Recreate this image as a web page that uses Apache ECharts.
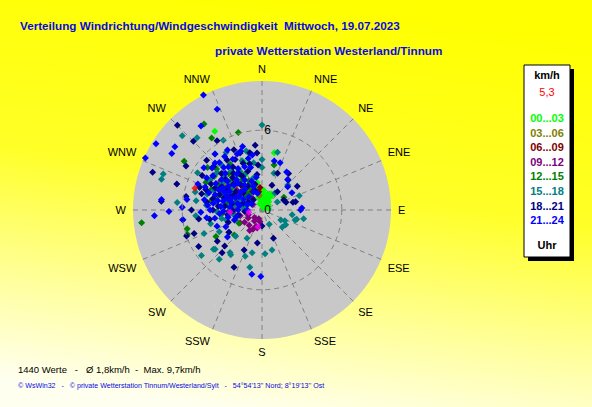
<!DOCTYPE html>
<html>
<head>
<meta charset="utf-8">
<script src="https://cdn.jsdelivr.net/npm/echarts@6/dist/echarts.min.js"></script>
<style>
  html, body { margin: 0; padding: 0; }
  #chart { width: 592px; height: 407px; }
</style>
</head>
<body>
<div id="chart"></div>
<script>
// compass labels for the angle axis, every 22.5 degrees
const dirLabels = ['N', 'NNE', 'NE', 'ENE', 'E', 'ESE', 'SE', 'SSE',
                   'S', 'SSW', 'SW', 'WSW', 'W', 'WNW', 'NW', 'NNW'];

// time groups (Uhr) and their colours
const groupNames = ['00...03', '03...06', '06...09', '09...12', '12...15', '15...18', '18...21', '21...24'];
const groupColors = ['#00ff00', '#808000', '#800000', '#800080', '#008000', '#008080', '#000080', '#0000ff'];

// points: [speed km/h, direction deg]
const g00 = [
  [0.2,40],[0.4,60],[0.5,30],[0.6,50],[0.5,75],[0.8,40],[1.0,30],[0.6,10],[0.8,15],[1.2,25],
  [0.9,5],[0.4,350],[1.3,35],[0.3,20],[1.4,355],[1.5,5],[0.5,340],[0.8,355],[1.0,345],[1.2,5],
  [1.3,20],[0.9,25],[1.1,15],[0.6,25],[1.4,30],[1.6,345],[1.8,340],[2.0,335],[2.3,338],[2.6,330],
  [2.9,333],[3.2,325],[2.1,350],[2.4,320],[2.8,315],[3.5,330],[1.7,315],[2.0,300],[3.0,305],[2.5,290],
  [4.4,12],[6.9,329],[3.8,340]
];
const g03 = [
  [1.1,350],[1.5,320],[2.0,310],[2.4,300],[1.8,285],[3.1,295],[2.7,315],[3.4,305]
];
const g06 = [
  [1.4,350],[1.9,300],[2.3,305],[2.6,290],[1.2,310],[3.0,300],[1.7,355],[2.2,320],[1.6,330]
];
const g09 = [
  [1.8,211],[1.6,235],[1.3,200],[1.0,215],[0.8,225],[1.5,220],[1.2,240],[0.7,200],[1.9,240],
  [1.1,250],[1.6,205],[0.9,190],[1.4,195],[1.7,255],[2.1,260],[2.6,298],[2.9,304],
  [3.1,300],[3.3,296],[2.4,308],[3.5,310],[2.2,300],[2.0,275],[2.7,285],[1.5,280],[3.8,305],[3.0,315],
  [1.8,295],[2.5,268],[4.0,312],[0.8,300],[1.2,320]
];
const g12 = [
  [7.8,326],[6.9,302],[9.1,264],[5.8,256],[5.9,252],[6.1,343],[6.6,325],[1.9,60],[3.5,15],[4.0,240],
  [2.8,228],[5.0,290],[4.6,312],[2.5,300],[2.9,295],[3.2,312],[2.0,290],[1.6,306],[3.6,286],[2.3,272],
  [3.8,300],[2.7,325],[1.9,330],[4.1,292],[3.0,265],[2.2,250],[1.2,285],[3.4,330],[2.6,282],[4.4,305],
  [1.8,318],[3.1,275],[2.0,240],[3.7,318],[4.2,325],[2.4,336],[3.3,290],[4.7,296],[2.8,308],[1.5,320],
  [3.9,280],[5.2,308],[2.1,285]
];
const g15 = [
  [6.4,0],[4.4,347],[3.8,0],[3.2,0],[2.9,18],[2.7,46],[3.0,69],[1.3,62],[1.6,37],[4.5,15],
  [3.2,102],[2.6,107],[2.7,105],[2.3,99],[1.9,115],[2.1,122],[1.6,118],[1.2,153],[3.3,176],[3.1,166],
  [4.4,192],[3.3,193],[4.0,217],[4.9,221],[4.6,230],[5.7,233],[4.7,248],[4.7,231],[4.1,215],[3.0,236],
  [6.4,275],[7.9,287],[7.9,290],[7.3,318],[8.2,313],[6.0,331],[5.2,285],[5.0,265],[3.6,243],[2.8,225],
  [2.4,208],[3.7,200],[2.0,130],[5.5,320],[4.0,255],[2.4,296],[2.9,310],[3.2,290],[2.1,280],[3.6,305],
  [1.7,300],[2.6,320],[3.9,292],[4.2,275],[3.4,268],[2.2,262],[1.4,276],[3.0,335],[2.0,340],[4.5,300],
  [3.7,322],[1.1,305],[2.8,255],[3.3,330],[4.0,338],[2.5,345],[3.8,312],[4.3,286],[5.0,278],[3.5,280],
  [2.7,300],[2.0,318],[4.6,318],[3.1,258],[2.5,275],[1.8,290],[4.8,300],[3.0,310],[5.6,300],[3.6,350],
  [4.6,345],[5.1,328],[3.9,325],[2.9,285],[4.4,310]
];
const g18 = [
  [9.0,315],[7.3,315],[6.6,300],[8.7,289],[6.7,287],[7.6,275],[6.0,263],[6.0,251],[5.4,251],[5.5,240],
  [4.1,235],[3.9,226],[4.8,206],[2.5,188],[2.3,158],[1.2,180],[1.8,65],[1.8,40],[2.4,76],[3.2,56],
  [3.4,36],[3.0,23],[4.9,354],[4.3,355],[3.4,355],[4.6,339],[3.0,41],[1.9,72],[2.6,76],[2.0,22],
  [3.0,236],[5.8,280],[5.2,300],[6.2,327],[4.4,223],[3.3,204],[2.6,293],[3.0,288],[2.4,305],[3.5,300],
  [1.9,312],[2.8,276],[3.8,283],[4.1,312],[2.2,268],[1.5,290],[3.3,318],[2.9,330],[4.3,297],[1.8,258],
  [2.6,262],[3.7,270],[4.7,285],[2.0,345],[3.1,340],[1.0,320],[3.9,326],[2.3,282],[1.3,265],[4.0,260],
  [2.7,250],[3.2,328],[3.8,338],[4.4,348],[2.7,352],[3.6,310],[4.5,305],[5.0,290],[4.2,278],[3.4,290],
  [2.1,330],[1.6,340],[4.9,312],[3.0,300],[5.3,270],[4.8,262],[2.5,320],[3.9,295],[1.2,300],[2.9,312],
  [4.6,325],[5.0,335],[4.3,332],[3.6,345],[5.6,312],[3.5,322],[2.4,298],[3.3,275],[4.5,290]
];
const g21 = [
  [9.7,333],[8.3,336],[7.8,324],[9.4,302],[8.1,306],[8.0,302],[9.6,294],[7.6,276],[8.1,267],[7.0,269],
  [5.7,278],[6.0,272],[6.0,263],[5.0,343],[3.8,21],[3.4,33],[2.6,60],[3.0,87],[2.9,90],[4.9,189],
  [5.0,181],[3.0,40],[2.6,48],[3.8,14],[3.6,250],[4.2,262],[3.3,232],[2.5,290],[2.8,300],[3.1,305],
  [2.2,295],[1.9,285],[3.4,310],[2.7,318],[3.0,283],[2.1,310],[1.6,300],[3.6,295],[4.0,300],[4.2,288],
  [3.9,315],[2.4,275],[2.9,268],[1.8,270],[1.2,290],[1.4,315],[3.3,325],[2.6,330],[4.5,305],[3.7,278],
  [2.0,255],[2.6,258],[3.2,265],[4.6,292],[4.8,318],[3.5,338],[2.3,340],[1.5,335],[0.9,300],[1.1,270],
  [2.2,250],[3.0,245],[4.4,330],[5.0,315],[3.2,296],[2.0,320],[1.7,282],[3.0,320],[3.6,330],[4.1,322],
  [4.6,336],[3.3,345],[2.5,350],[4.0,345],[4.8,300],[5.2,292],[4.4,280],[3.9,270],[4.6,268],[3.4,282],
  [2.8,312],[2.3,325],[1.9,340],[3.8,307],[4.3,318],[3.1,275],[2.0,300],[5.4,306],[1.3,345],[3.6,260],
  [2.7,288],[4.9,325],[4.7,340],[5.2,330],[4.2,350],[5.5,320],[4.9,310],[3.4,300],[2.9,292],[2.4,285],
  [3.7,288],[4.1,275]
];
const groups = [g00, g03, g06, g09, g12, g15, g18, g21];

// current value (red) and latest readings (magenta)
const currentPoint = [[5.3,288]];
const latestPoints = [[2.4,266],[1.3,193],[1.0,260]];

const speedMax = 9.7;
const fontFam = '"Liberation Sans", Arial, sans-serif';

const chart = echarts.init(document.getElementById('chart'), null, { renderer: 'svg' });

const series = groups.map((g, i) => ({
  name: groupNames[i],
  type: 'scatter',
  coordinateSystem: 'polar',
  polarIndex: 1,
  symbol: 'diamond',
  symbolSize: 7,
  z: 5,
  itemStyle: { color: groupColors[i], opacity: 1 },
  data: g
}));
series.push({
  type: 'scatter', coordinateSystem: 'polar', polarIndex: 1, symbol: 'diamond', symbolSize: 7, z: 5,
  itemStyle: { color: '#ff00ff' }, data: latestPoints
});
series.push({
  type: 'scatter', coordinateSystem: 'polar', polarIndex: 1, symbol: 'diamond', symbolSize: 7, z: 5,
  itemStyle: { color: '#ff0000' }, data: currentPoint
});

const blue = '#0a0ae0';
const legendX = 547;
const legendTexts = [
  { text: 'km/h', y: 75, color: '#000', bold: true },
  { text: '5,3', y: 92, color: '#ff0000', bold: false }
];
groupNames.forEach((n, i) => legendTexts.push({ text: n, y: 118 + i * 14.6, color: groupColors[i], bold: true }));
legendTexts.push({ text: 'Uhr', y: 245, color: '#000', bold: true });

const graphics = [
  { type: 'rect', shape: { x: 528, y: 69, width: 46, height: 192 }, style: { fill: '#000' } },
  { type: 'rect', shape: { x: 524, y: 65, width: 46, height: 192 }, style: { fill: '#fff', stroke: '#000', lineWidth: 1 } }
].concat(legendTexts.map(t => ({
  type: 'text', x: legendX, y: t.y,
  style: {
    text: t.text, fill: t.color, align: 'center', verticalAlign: 'middle',
    font: (t.bold ? 'bold ' : '') + '11px ' + fontFam
  }
}))).concat([
  { type: 'text', x: 20, y: 25, style: { text: 'Verteilung Windrichtung/Windgeschwindigkeit  Mittwoch, 19.07.2023',
      fill: blue, verticalAlign: 'middle', font: 'bold 11.7px ' + fontFam } },
  { type: 'text', x: 215, y: 50, style: { text: 'private Wetterstation Westerland/Tinnum',
      fill: blue, verticalAlign: 'middle', font: 'bold 11.7px ' + fontFam } },
  { type: 'text', x: 18, y: 369, style: { text: '1440 Werte   -   Ø 1,8km/h  -  Max. 9,7km/h',
      fill: '#000', verticalAlign: 'middle', font: '9.5px ' + fontFam } },
  { type: 'text', x: 18, y: 386, style: { text: "© WsWin32   -   © private Wetterstation Tinnum/Westerland/Sylt   -   54°54'13'' Nord; 8°19'13'' Ost",
      fill: blue, verticalAlign: 'middle', font: '7.1px ' + fontFam } }
]);

const hidden = { show: false };

chart.setOption({
  animation: false,
  backgroundColor: new echarts.graphic.LinearGradient(0.55, 0, 0.35, 1, [
    { offset: 0, color: '#ffff00' },
    { offset: 0.45, color: '#ffff28' },
    { offset: 0.75, color: '#ffff98' },
    { offset: 1, color: '#fffff0' }
  ]),
  // polar 0: grey disc only; polar 1: grid lines, labels and points
  polar: [
    { center: [262, 210], radius: 129 },
    { center: [262, 210], radius: 129 }
  ],
  angleAxis: [
    {
      polarIndex: 0, type: 'value', min: 0, max: 360, startAngle: 90, clockwise: true, z: 0,
      axisLine: hidden, axisTick: hidden, axisLabel: hidden, splitLine: hidden
    },
    {
      polarIndex: 1, type: 'value', min: 0, max: 360, interval: 22.5,
      startAngle: 90, clockwise: true, z: 2,
      axisLine: hidden,
      axisTick: hidden,
      axisLabel: {
        margin: 7, color: '#000', fontSize: 11, fontFamily: fontFam,
        formatter: v => dirLabels[Math.round(v / 22.5) % 16]
      },
      splitLine: { show: true, lineStyle: { color: '#808080', type: [5, 4], width: 1 } }
    }
  ],
  radiusAxis: [
    {
      polarIndex: 0, type: 'value', min: 0, max: speedMax, z: 0,
      axisLine: hidden, axisTick: hidden, axisLabel: hidden, splitLine: hidden,
      splitArea: { show: true, areaStyle: { color: ['#c8c8c8'] } }
    },
    {
      // drawn above the points so the 0 label stays readable
      polarIndex: 1, type: 'value', min: 0, max: speedMax, interval: 6, z: 6,
      axisLine: hidden,
      axisTick: hidden,
      axisLabel: {
        margin: -9, color: '#000', fontSize: 12, fontFamily: fontFam,
        formatter: v => (v === 0 || v === 6) ? String(v) : ''
      },
      splitLine: { show: true, lineStyle: { color: ['#808080', '#808080', 'rgba(0,0,0,0)'], type: [5, 4], width: 1 } }
    }
  ],
  graphic: graphics,
  series: series
});
</script>
</body>
</html>
